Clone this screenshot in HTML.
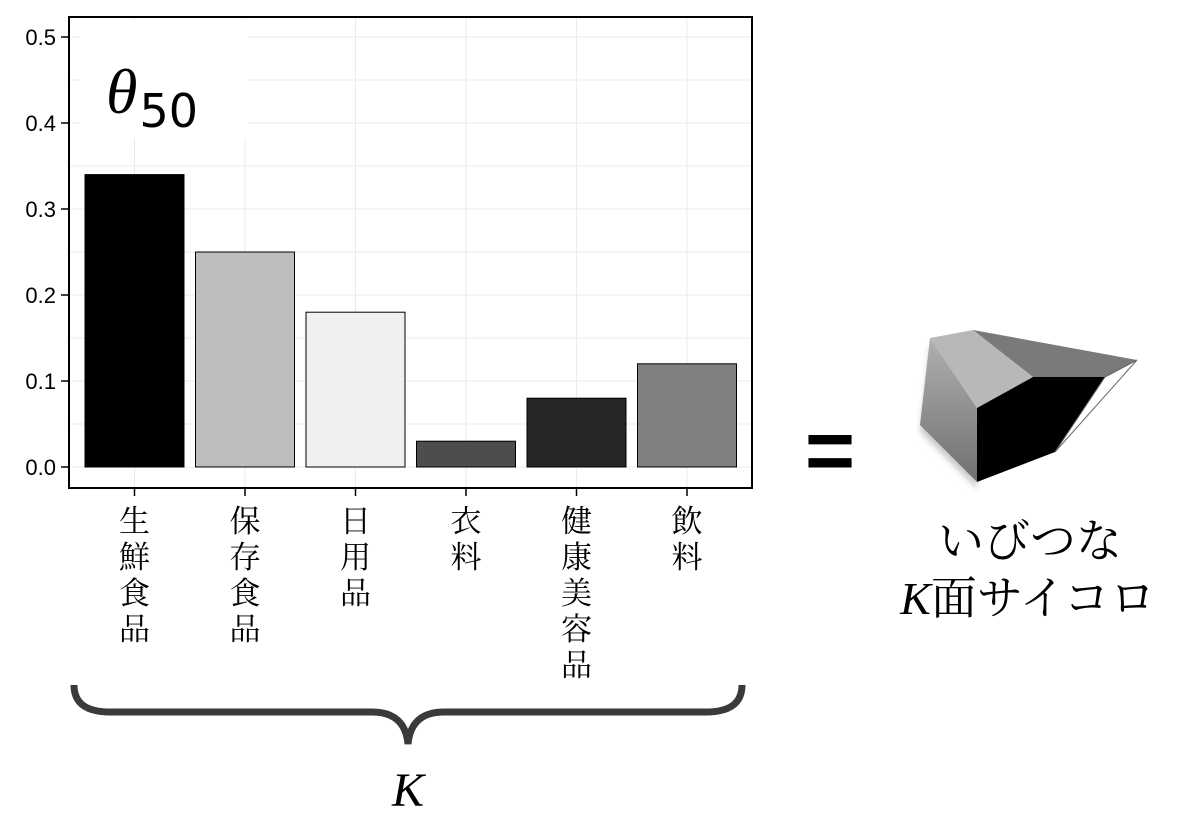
<!DOCTYPE html>
<html><head><meta charset="utf-8"><style>
body{margin:0;background:#fff;}
svg{display:block;font-family:"Liberation Sans","Noto Sans CJK JP",sans-serif;}
</style></head><body>
<svg id="chart" width="1197" height="839" viewBox="0 0 1197 839" xmlns="http://www.w3.org/2000/svg">
<defs>
<linearGradient id="lg" x1="0" y1="0" x2="0" y2="1"><stop offset="0" stop-color="#b0b0b0"/><stop offset="1" stop-color="#707070"/></linearGradient>
<filter id="sh"><feGaussianBlur stdDeviation="3"/></filter>
</defs>
<g id="grid"></g>
<rect x="80" y="20" width="168" height="118" fill="#fff"/>
<g id="bars"></g>
<rect x="69" y="17" width="683" height="471" fill="none" stroke="#000" stroke-width="2"/>
<g id="yaxis"></g>
<g id="xaxis"></g>
<text x="106" y="113" font-family="Liberation Serif,serif" font-style="italic" font-size="64">θ<tspan font-family="DejaVu Sans,sans-serif" font-style="normal" font-size="46" dy="14" dx="2">50</tspan></text>
<path d="M74,685 Q74,712 110,712 L372,712 Q405,712 408,744 Q411,712 444,712 L706,712 Q742,712 742,685" fill="none" stroke="#3a3a3a" stroke-width="7"/>
<text x="408" y="806" text-anchor="middle" font-family="Liberation Serif,serif" font-style="italic" font-size="48">K</text>
<text x="830" y="480" text-anchor="middle" font-size="86" font-weight="bold">=</text>
<g>
<polygon points="930,345 977,415 977,489 920,432" fill="#999" filter="url(#sh)" opacity="0.5"/>
<polygon points="930,338 977,408 977,482 920,425" fill="url(#lg)"/>
<polygon points="930,338 973,330 1033,377 977,408" fill="#b8b8b8"/>
<polygon points="973,330 1137,360 1105,377 1033,377" fill="#7a7a7a"/>
<polygon points="1033,377 1105,377 1055,452 977,482 977,408" fill="#000"/>
<polygon points="1105,377 1137,360 1055,452" fill="#fff" stroke="#666" stroke-width="1"/>
</g>
<text x="1030" y="557" text-anchor="middle" font-family="Liberation Serif,'Noto Serif CJK SC',serif" font-size="46">いびつな</text>
<text x="1028" y="614" text-anchor="middle" font-family="Liberation Serif,'Noto Serif CJK SC',serif" font-size="46"><tspan font-style="italic">K</tspan>面サイコロ</text>
</svg>
<script>
const categories=["生鮮食品","保存食品","日用品","衣料","健康美容品","飲料"];
const values=[0.34,0.25,0.18,0.03,0.08,0.12];
const colors=["#000000","#bdbdbd","#f0f0f0","#4d4d4d","#262626","#808080"];
const yTicks=[0,0.1,0.2,0.3,0.4,0.5];
const yTickLabels=["0.0","0.1","0.2","0.3","0.4","0.5"];
const NS="http://www.w3.org/2000/svg";
function y(v){return 467-v*860;}
function x(i){return 134.5+110.5*i;}
const bw=99;
function mk(t,a,p){const e=document.createElementNS(NS,t);for(const k in a)e.setAttribute(k,a[k]);p.appendChild(e);return e;}
const grid=document.getElementById('grid'),bars=document.getElementById('bars'),ya=document.getElementById('yaxis'),xa=document.getElementById('xaxis');
for(let v=0;v<=0.5;v+=0.05){const l=mk('line',{x1:69,x2:752,y1:y(v),y2:y(v),stroke:'#ebebeb','stroke-width':1},grid);}
categories.forEach((c,i)=>{const l=mk('line',{x1:x(i),x2:x(i),y1:17,y2:488,stroke:'#ebebeb','stroke-width':1},grid);});
yTicks.forEach((v,i)=>{
 const t=mk('line',{x1:61,x2:69,y1:y(v),y2:y(v),stroke:'#000','stroke-width':1.5},ya);
 
 const tx=mk('text',{x:56,y:y(v)+8,'text-anchor':'end','font-size':22},ya);tx.textContent=yTickLabels[i];
 
});
categories.forEach((c,i)=>{
 const r=mk('rect',{x:x(i)-bw/2,y:y(values[i]),width:bw,height:y(0)-y(values[i]),fill:colors[i],stroke:'#000','stroke-width':1},bars);
 
 const t=mk('line',{x1:x(i),x2:x(i),y1:488,y2:496,stroke:'#000','stroke-width':1.5},xa);
 
 const g=mk('text',{'text-anchor':'middle','font-size':31,'font-family':"Liberation Serif,'Noto Serif CJK JP',serif"},xa);
 
 [...c].forEach((ch,j)=>{const s=mk('tspan',{x:x(i),y:532+j*36},g);s.textContent=ch;});
});
</script>
</body></html>
